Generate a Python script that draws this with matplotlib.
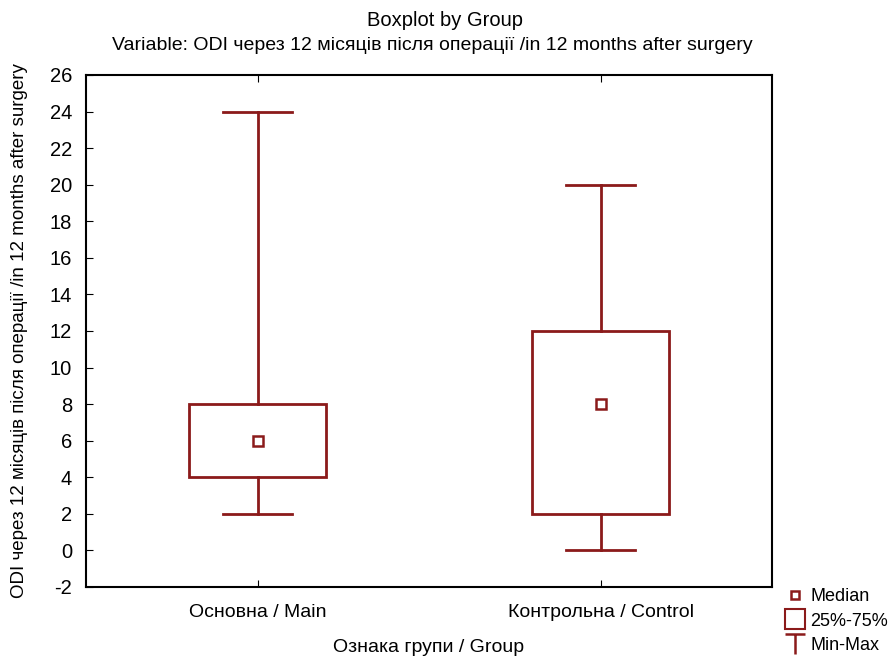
import matplotlib
matplotlib.use("Agg")
import matplotlib.pyplot as plt
from matplotlib.lines import Line2D
from matplotlib.patches import Rectangle
from matplotlib.path import Path

plt.rcParams['font.family'] = ['Liberation Sans', 'DejaVu Sans']
plt.rcParams['axes.unicode_minus'] = False

groups = ["Основна / Main", "Контрольна / Control"]
mins = [2, 0]
q1 = [4, 2]
medians = [6, 8]
q3 = [8, 12]
maxs = [24, 20]
yticks = list(range(-2, 27, 2))

col = "#8B1A1A"
box_w = 0.4
cap_w = 0.2

fig = plt.figure(figsize=(8.96, 6.57), dpi=100)
ax = fig.add_axes([86/896, 1-587/657, (772-86)/896, (587-75)/657])

for i, g in enumerate(groups):
    x = i + 1
    ax.add_patch(Rectangle((x - box_w/2, q1[i]), box_w, q3[i] - q1[i],
                           fill=False, edgecolor=col, lw=2, zorder=3))
    ax.plot([x, x], [q3[i], maxs[i]], color=col, lw=2, zorder=3)
    ax.plot([x, x], [mins[i], q1[i]], color=col, lw=2, zorder=3)
    ax.plot([x - cap_w/2, x + cap_w/2], [maxs[i], maxs[i]], color=col, lw=2, zorder=3)
    ax.plot([x - cap_w/2, x + cap_w/2], [mins[i], mins[i]], color=col, lw=2, zorder=3)
    ax.plot([x], [medians[i]], marker='s', ms=7, mfc='white', mec=col, mew=1.8, zorder=4)

ax.set_xlim(0.5, 2.5)
ax.set_ylim(-2, 26)
ax.set_yticks(yticks)
ax.set_xticks([1, 2])
ax.set_xticklabels(groups)
ax.tick_params(axis='y', direction='in', length=5, labelsize=14.5, pad=10)
ax.tick_params(axis='x', direction='in', length=5, top=True, labelsize=14, pad=12)
for s in ax.spines.values():
    s.set_linewidth(1.5)

ax.set_ylabel("ODI через 12 місяців після операції /in 12 months after surgery", fontsize=13.5)
ax.yaxis.set_label_coords(-0.085, 0.5)
ax.set_xlabel("Ознака групи / Group", fontsize=14, labelpad=13)

fig.text(0.497, 1-20/657, "Boxplot by Group", ha='center', va='center', fontsize=14.5)
fig.text(0.483, 1-45/657, "Variable: ODI через 12 місяців після операції /in 12 months after surgery",
         ha='center', va='center', fontsize=14)

t_marker = Path([(-0.5, 0.5), (0.5, 0.5), (0, 0.5), (0, -0.5)],
                [Path.MOVETO, Path.LINETO, Path.MOVETO, Path.LINETO])
handles = [
    Line2D([], [], ls='none', marker='s', ms=6, mfc='white', mec=col, mew=1.8),
    Line2D([], [], ls='none', marker='s', ms=14, mfc='white', mec=col, mew=1.5),
    Line2D([], [], ls='none', marker=t_marker, ms=15, mec=col, mew=1.8),
]
fig.legend(handles, ["Median", "25%-75%", "Min-Max"], loc='upper left',
           bbox_to_anchor=(779/896, 1-579/657), frameon=False, fontsize=13,
           handlelength=0.8, handletextpad=0.45, labelspacing=0.42, borderpad=0)

fig.savefig("out.png", dpi=100)
